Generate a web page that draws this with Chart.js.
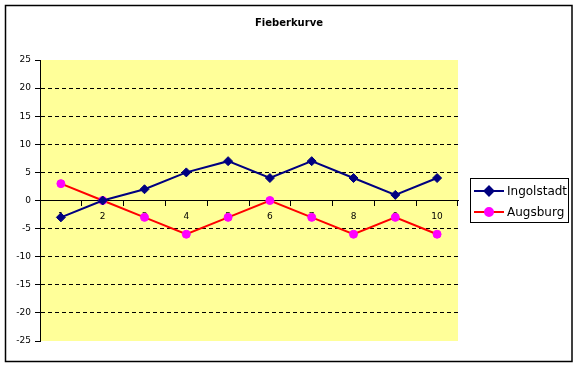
<!DOCTYPE html>
<html>
<head>
<meta charset="utf-8">
<script src="https://cdn.jsdelivr.net/npm/chart.js@4/dist/chart.umd.min.js"></script>
<style>
    html, body { margin: 0; padding: 0; background: #ffffff; }
    #wrap { position: relative; width: 578px; height: 366px; }
</style>
</head>
<body>
<div id="wrap"><canvas id="fieber"></canvas></div>
<script>
// ── Data ──────────────────────────────────────────────────

const chartTitle  = 'Fieberkurve';
const categories  = ['1', '2', '3', '4', '5', '6', '7', '8', '9', '10'];
const ingolstadt  = [-3, 0, 2, 5, 7, 4, 7, 4, 1, 4];
const augsburg    = [3, 0, -3, -6, -3, 0, -3, -6, -3, -6];
const seriesNames = ['Ingolstadt', 'Augsburg'];

const FONT = '"DejaVu Sans", Verdana, sans-serif';

// ── Frame: border, plot background, title, legend ─────────

const framePlugin = {
    id: 'frame',
    beforeDraw(chart) {
        const { ctx, chartArea: a } = chart;
        ctx.save();
        ctx.fillStyle = '#ffffff';
        ctx.fillRect(0, 0, chart.width, chart.height);
        ctx.fillStyle = '#ffff99';
        ctx.fillRect(a.left, a.top, a.right - a.left, a.bottom - a.top);
        ctx.restore();
    },
    afterDraw(chart) {
        const ctx = chart.ctx;
        ctx.save();

        // outer border
        ctx.strokeStyle = '#000000';
        ctx.lineWidth = 1.5;
        ctx.strokeRect(5.5, 5.5, 566.5, 356);

        // title
        ctx.fillStyle = '#000000';
        ctx.font = 'bold 10px ' + FONT;
        ctx.textAlign = 'center';
        ctx.textBaseline = 'middle';
        ctx.fillText(chartTitle, 289, 23);

        // legend box
        ctx.lineWidth = 1;
        ctx.strokeRect(470.5, 178.5, 98, 44);
        ctx.font = '12px ' + FONT;
        ctx.textAlign = 'left';
        chart.data.datasets.forEach((ds, i) => {
            const y = 191 + i * 21;
            ctx.strokeStyle = ds.borderColor;
            ctx.lineWidth = 2;
            ctx.beginPath();
            ctx.moveTo(474, y);
            ctx.lineTo(504, y);
            ctx.stroke();
            ctx.fillStyle = ds.pointBackgroundColor;
            ctx.strokeStyle = ds.pointBorderColor;
            Chart.helpers.drawPoint(ctx, {
                pointStyle: ds.pointStyle, radius: ds.pointRadius, borderWidth: 1, rotation: 0
            }, 489, y);
            ctx.fillStyle = '#000000';
            ctx.fillText(ds.label, 507, y + 1);
        });
        ctx.restore();
    }
};

// ── Chart ─────────────────────────────────────────────────

function FieberkurveChart() {
    const ctx = document.getElementById('fieber').getContext('2d');

    new Chart(ctx, {
        type: 'line',
        plugins: [framePlugin],
        data: {
            labels: categories,
            datasets: [
                {
                    label: seriesNames[0],
                    data: ingolstadt,
                    borderColor: '#000080',
                    borderWidth: 2,
                    pointStyle: 'rectRot',
                    pointRadius: 4.5,
                    pointBackgroundColor: '#000080',
                    pointBorderColor: '#000080',
                    pointBorderWidth: 1,
                    tension: 0
                },
                {
                    label: seriesNames[1],
                    data: augsburg,
                    borderColor: '#ff0000',
                    borderWidth: 2,
                    pointStyle: 'circle',
                    pointRadius: 4,
                    pointBackgroundColor: '#ff00ff',
                    pointBorderColor: '#ff00ff',
                    pointBorderWidth: 1,
                    tension: 0
                }
            ]
        },
        options: {
            responsive: true,
            maintainAspectRatio: false,
            animation: false,
            layout: { padding: { top: 60, left: 6, right: 120, bottom: 25 } },
            plugins: {
                legend:  { display: false },
                title:   { display: false },
                tooltip: { enabled: false }
            },
            scales: {
                x: {
                    position: { y: 0 },
                    offset: true,
                    grid: {
                        offset: true,
                        drawOnChartArea: false,
                        drawTicks: true,
                        tickLength: 5,
                        color: '#000000'
                    },
                    border: { display: true, color: '#000000', width: 1 },
                    ticks: {
                        color: '#000000',
                        font: { family: FONT, size: 9 },
                        padding: 6,
                        maxRotation: 0,
                        autoSkip: false
                    }
                },
                y: {
                    min: -25,
                    max: 25,
                    afterFit(scale) { scale.width = 34; },
                    grid: {
                        color: c => (Math.abs(c.tick.value) === 25 || c.tick.value === 0) ? 'rgba(0,0,0,0)' : '#000000',
                        tickColor: '#000000',
                        tickLength: 5,
                        lineWidth: 1
                    },
                    border: { display: true, color: '#000000', width: 1, dash: [4, 3] },
                    ticks: {
                        stepSize: 5,
                        color: '#000000',
                        font: { family: FONT, size: 9 },
                        padding: 4
                    }
                }
            }
        }
    });
}

FieberkurveChart();
</script>
</body>
</html>
